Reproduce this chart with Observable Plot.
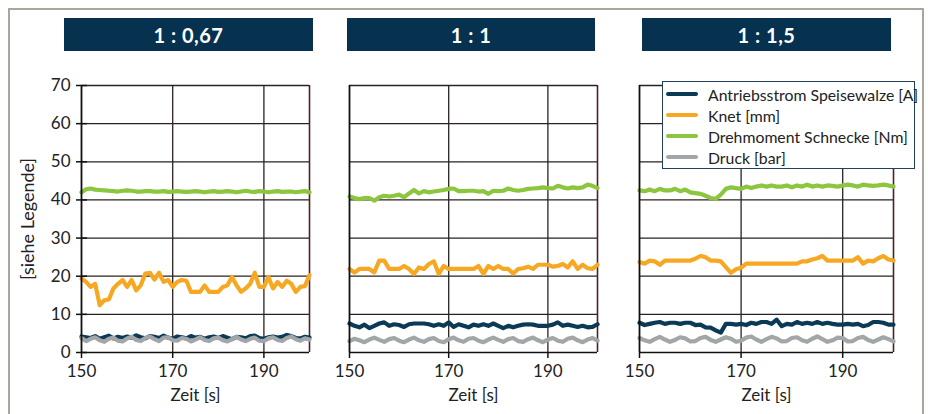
<!DOCTYPE html>
<html>
<head>
<meta charset="utf-8">
<script src="https://cdn.jsdelivr.net/npm/d3@7"></script>
<script src="https://cdn.jsdelivr.net/npm/@observablehq/plot@0.6"></script>
<style>
  html, body { margin: 0; padding: 0; background: #fff; }
  #root { position: relative; width: 928px; height: 414px; overflow: hidden; font-family: Lato, "Noto Sans", sans-serif; }
  .frame { position: absolute; left: 8px; top: 8px; width: 916px; height: 430px; border: 2px solid #aaa69d; box-sizing: border-box; }
  .hdr { position: absolute; top: 18px; height: 33px; background: #07324f; color: #fff; font-weight: bold; font-size: 20px; display: flex; align-items: center; justify-content: center; letter-spacing: 0.5px; }
  .legend { position: absolute; left: 662px; top: 81px; width: 253px; height: 88px; border: 1.5px solid #23405a; background: #fff; box-sizing: border-box; }
  .lrow { position: absolute; left: 0; height: 20px; display: flex; align-items: center; font-size: 15.8px; color: #222; white-space: nowrap; }
  .sw { width: 32px; height: 4px; margin-left: 3px; margin-right: 10px; border-radius: 2px; flex: none; }
</style>
</head>
<body>
<div id="root"><div class="frame"></div></div>
<script>
// ---- data ----
const panelTitles = ["1 : 0,67", "1 : 1", "1 : 1,5"];
const seriesNames = ["Antriebsstrom Speisewalze [A]", "Knet [mm]", "Drehmoment Schnecke [Nm]", "Druck [bar]"];
const seriesColors = ["#0b3a56", "#f7a823", "#8cc63f", "#a3a6a8"];
const xTicks = [150, 170, 190];
const xDomain = [150, 200];
const yTicks = [0, 10, 20, 30, 40, 50, 60, 70];
const yDomain = [0, 70];
const xLabel = "Zeit [s]";
const yLabel = "[siehe Legende]";

const time = [150,151,152,153,154,155,156,157,158,159,160,161,162,163,164,165,166,167,168,169,170,171,172,173,174,175,176,177,178,179,180,181,182,183,184,185,186,187,188,189,190,191,192,193,194,195,196,197,198,199,200];

// Panel 1 : 0,67
const p1Antrieb = [4.2,4.0,3.8,4.3,3.6,4.0,4.4,3.7,4.1,3.8,4.2,3.9,4.5,4.0,3.7,4.3,4.1,3.8,4.4,3.9,3.6,4.2,4.0,3.7,4.3,3.9,4.1,3.6,4.0,4.2,3.8,4.3,3.9,3.5,4.1,4.0,3.7,4.3,4.4,3.8,3.6,4.0,4.2,3.9,4.1,4.6,4.3,3.8,3.7,4.1,3.9];
const p1Knet = [19.4,18.5,17.2,18.0,12.4,13.7,13.9,16.8,18.0,19.0,17.2,19.0,16.3,17.6,20.7,20.9,19.1,20.9,18.5,19.0,17.2,18.5,19.0,18.8,15.9,15.9,15.9,17.6,15.9,15.9,15.9,17.2,17.6,19.8,17.6,15.9,16.8,18.0,20.9,17.2,17.2,19.8,16.8,18.5,17.2,18.8,18.0,15.9,17.2,17.4,20.3];
const p1Dreh = [42.0,42.8,43.0,42.7,42.6,42.5,42.4,42.3,42.2,42.4,42.5,42.4,42.2,42.2,42.3,42.3,42.2,42.2,42.3,42.1,42.2,42.3,42.2,42.1,42.2,42.3,42.2,42.0,42.2,42.3,42.1,42.2,42.3,42.2,42.0,42.2,42.4,42.2,42.1,42.3,42.2,42.0,42.2,42.3,42.1,42.2,42.2,42.0,42.2,42.3,42.0];
const p1Druck = [3.8,3.0,3.6,4.0,3.2,2.8,3.6,3.9,3.1,2.9,3.7,4.1,3.3,3.0,3.8,4.2,3.5,3.0,3.9,4.0,3.2,3.1,3.8,3.6,2.9,3.4,4.0,3.3,3.0,3.7,3.9,3.2,2.9,3.5,4.1,3.4,3.0,3.6,3.9,3.1,3.0,3.7,4.0,3.3,3.0,3.8,4.2,3.5,3.1,3.7,3.4];

// Panel 1 : 1
const p2Antrieb = [7.6,7.0,6.6,7.3,6.4,7.0,7.6,7.9,7.0,7.4,7.2,6.7,7.4,7.6,7.6,7.6,7.4,7.0,7.4,7.0,7.9,6.7,7.4,7.0,6.6,7.3,7.0,7.4,7.0,7.6,7.0,6.4,7.0,6.6,7.0,7.3,7.4,7.3,7.0,7.0,7.0,7.3,7.9,7.0,7.3,7.0,6.7,7.0,6.6,6.7,7.4];
const p2Knet = [21.9,21.0,21.9,21.9,21.9,21.0,24.1,24.1,21.9,21.9,21.9,22.7,21.9,20.6,22.3,21.9,23.2,23.9,20.6,22.7,21.9,21.9,21.9,21.9,21.9,21.9,22.7,20.6,22.7,21.9,22.7,21.9,21.9,20.7,21.9,22.1,22.5,21.9,23.0,23.0,23.0,22.5,22.7,23.2,22.3,23.9,21.9,23.0,22.1,21.9,23.0];
const p2Dreh = [40.9,40.5,40.2,40.5,40.5,39.8,40.7,41.1,40.9,41.1,41.4,40.7,41.7,42.6,41.7,42.3,42.0,42.2,42.4,42.6,42.9,43.0,42.3,42.3,42.4,42.4,42.2,42.3,41.6,42.4,42.3,42.4,43.0,42.6,42.4,42.6,42.9,43.0,43.1,43.3,43.1,43.0,43.7,43.3,43.0,43.3,43.1,43.3,44.0,43.7,43.1];
const p2Druck = [3.0,3.6,3.2,2.7,3.4,3.9,3.3,2.8,3.5,3.8,3.1,2.7,3.4,3.9,3.2,2.8,3.5,3.8,3.0,2.7,3.5,3.9,3.2,2.8,3.6,3.8,3.1,2.7,3.4,3.9,3.3,2.8,3.5,3.8,3.0,2.8,3.5,3.9,3.2,2.7,3.4,3.8,3.1,2.8,3.6,3.9,3.2,2.7,3.4,3.8,3.1];

// Panel 1 : 1,5
const p3Antrieb = [7.8,7.2,7.5,7.8,8.0,7.5,7.8,7.8,7.5,7.8,7.8,7.2,7.3,6.6,6.5,5.8,5.2,7.5,7.5,7.3,7.5,7.2,7.8,7.5,8.0,8.0,7.5,8.6,6.9,7.5,7.3,8.0,7.5,7.8,7.5,8.0,7.5,7.8,7.5,7.3,7.3,7.5,7.3,7.5,6.9,7.2,8.0,8.0,7.8,7.3,7.3];
const p3Knet = [23.7,23.3,24.1,23.9,23.0,24.1,24.1,24.1,24.1,24.1,24.1,24.6,25.3,25.0,24.1,24.1,23.9,22.4,20.9,21.8,22.2,23.3,23.3,23.3,23.3,23.3,23.3,23.3,23.3,23.3,23.3,23.3,23.9,23.9,24.4,24.7,25.3,24.1,24.1,24.1,24.1,24.1,24.1,25.0,23.3,24.1,23.9,24.7,25.3,24.4,24.1];
const p3Dreh = [42.5,42.3,42.7,42.3,42.9,42.5,42.5,42.9,42.3,42.7,42.0,41.8,41.6,41.1,40.5,40.3,41.4,42.9,43.3,43.1,42.9,43.5,43.1,43.5,43.8,43.5,43.8,43.5,43.5,43.8,43.3,43.8,43.5,44.0,43.5,43.8,43.5,43.8,43.7,43.5,43.8,44.0,43.8,43.5,44.0,43.8,43.7,43.8,44.0,43.8,43.5];
const p3Druck = [3.8,3.2,2.8,3.5,4.1,3.4,2.8,3.3,4.0,3.7,2.9,3.0,3.8,4.1,3.3,2.8,3.4,4.0,3.6,2.8,3.1,3.9,4.2,3.4,2.8,3.5,4.1,3.7,2.9,3.0,3.8,4.0,3.2,2.8,3.6,4.2,3.5,2.8,3.2,3.9,3.8,2.9,3.0,3.8,4.1,3.3,2.8,3.4,4.0,3.5,2.9];

const panelSeries = [
  [p1Antrieb, p1Knet, p1Dreh, p1Druck],
  [p2Antrieb, p2Knet, p2Dreh, p2Druck],
  [p3Antrieb, p3Knet, p3Dreh, p3Druck]
];

// ---- layout ----
const layout = [
  {svgLeft: 0,   width: 320, marginLeft: 81, marginRight: 11, hdrLeft: 64,  hdrWidth: 249, yAxis: true},
  {svgLeft: 320, width: 290, marginLeft: 29, marginRight: 13, hdrLeft: 347, hdrWidth: 248, yAxis: false},
  {svgLeft: 610, width: 318, marginLeft: 29, marginRight: 35, hdrLeft: 642, hdrWidth: 249, yAxis: false}
];

const root = document.getElementById("root");
const gridColor = "#2a2222";

panelTitles.forEach((title, pi) => {
  const L = layout[pi];
  const hdr = document.createElement("div");
  hdr.className = "hdr";
  hdr.style.left = L.hdrLeft + "px";
  hdr.style.width = L.hdrWidth + "px";
  hdr.textContent = title;
  root.appendChild(hdr);

  const rows = [];
  const order = [0, 3, 1, 2];
  order.forEach(si => {
    panelSeries[pi][si].forEach((v, i) => rows.push({t: time[i], v, s: seriesNames[si]}));
  });

  const marks = [
    Plot.ruleY(yTicks.filter(d => d > 0), {stroke: gridColor, strokeWidth: 1.3}),
    Plot.ruleX(xTicks.filter(d => d > xDomain[0]), {stroke: gridColor, strokeWidth: 1.3}),
    Plot.ruleX([xDomain[1]], {stroke: "#4a2424", strokeWidth: 1.6}),
    Plot.line(rows, {x: "t", y: "v", z: "s", stroke: "s", strokeWidth: 4.2, strokeLinejoin: "round", strokeLinecap: "round"}),
    Plot.ruleY([0], {stroke: "#111", strokeWidth: 1.5}),
    Plot.ruleX([xDomain[0]], {stroke: "#111", strokeWidth: 1.8}),
    Plot.axisX({ticks: xTicks, tickSize: 6, tickPadding: 6, tickFormat: d => String(d), label: null, stroke: "#111", strokeWidth: 1.5, fill: "#222", fontSize: 17}),
    Plot.text([xLabel], {frameAnchor: "bottom", dy: 48, fontSize: 17, fill: "#222"})
  ];
  if (L.yAxis) {
    marks.push(Plot.axisY({ticks: yTicks, tickSize: 11, dx: 6, text: null, label: null, stroke: "#111", strokeWidth: 1.5}));
    marks.push(Plot.axisY({ticks: yTicks, tickSize: 0, tickPadding: 11, label: null, fill: "#222", fontSize: 17}));
    marks.push(Plot.text([yLabel], {frameAnchor: "left", textAnchor: "middle", lineAnchor: "middle", dx: -53, rotate: -90, fontSize: 18, fill: "#222"}));
  }

  const chart = Plot.plot({
    width: L.width,
    height: 344,
    marginLeft: L.marginLeft,
    marginRight: L.marginRight,
    marginTop: 15,
    marginBottom: 62,
    x: {domain: xDomain, axis: null},
    y: {domain: yDomain, axis: null},
    color: {domain: seriesNames, range: seriesColors},
    style: {fontFamily: "Lato, 'Noto Sans', sans-serif", fontSize: "17px", background: "transparent", overflow: "visible"},
    marks
  });
  chart.style.position = "absolute";
  chart.style.left = L.svgLeft + "px";
  chart.style.top = "70px";
  root.appendChild(chart);
});

// legend
const legend = document.createElement("div");
legend.className = "legend";
seriesNames.forEach((name, i) => {
  const row = document.createElement("div");
  row.className = "lrow";
  row.style.top = (2 + i * 21) + "px";
  const sw = document.createElement("span");
  sw.className = "sw";
  sw.style.background = seriesColors[i];
  const tx = document.createElement("span");
  tx.textContent = name;
  row.appendChild(sw);
  row.appendChild(tx);
  legend.appendChild(row);
});
root.appendChild(legend);
</script>
</body>
</html>
